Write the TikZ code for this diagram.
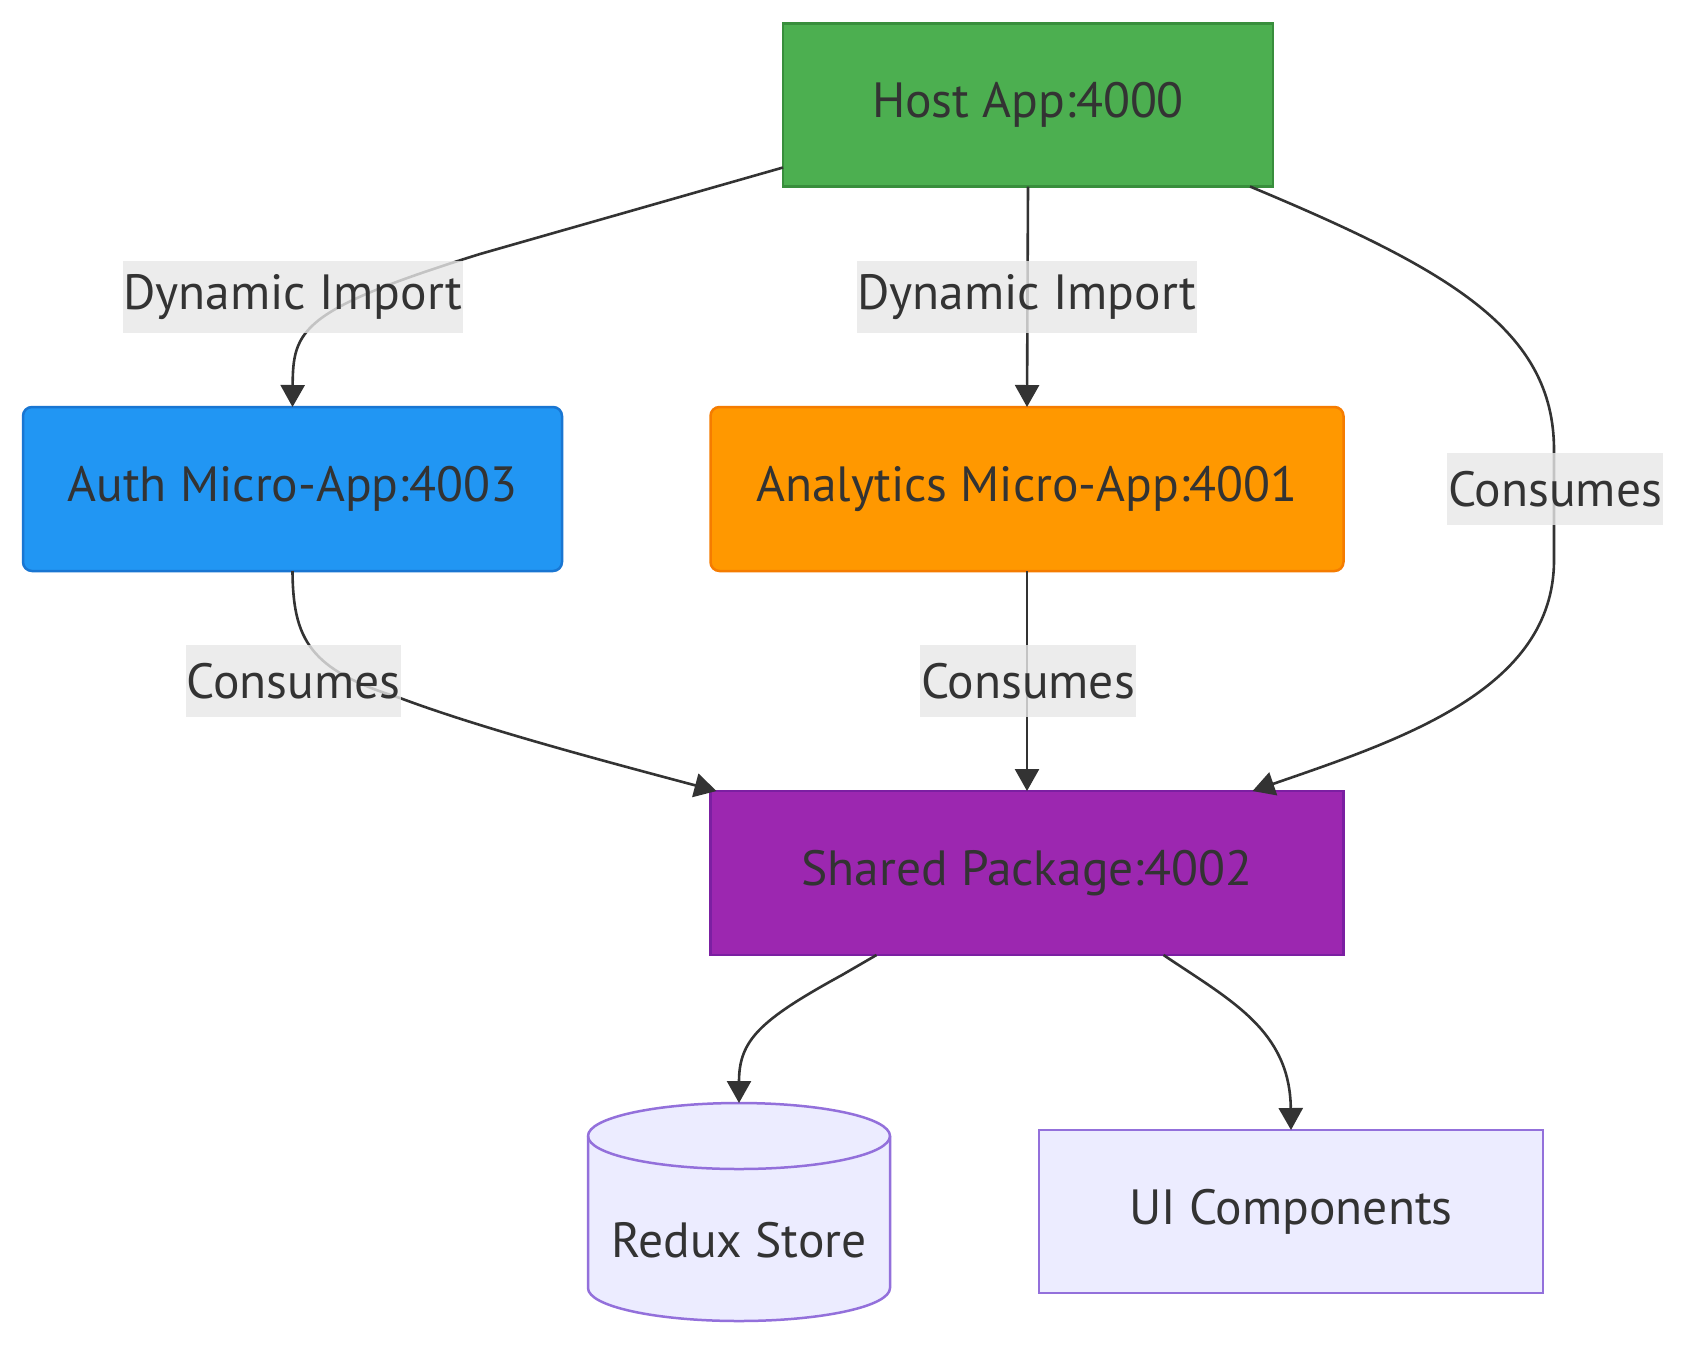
\documentclass[tikz,border=0pt]{standalone}
\usepackage{fontspec}
\setmainfont{PT Sans}
\usetikzlibrary{arrows.meta,calc}
\definecolor{ink}{HTML}{333333}
\definecolor{lblbg}{HTML}{E8E8E8}
\definecolor{hostfill}{HTML}{4CAF50}
\definecolor{hoststroke}{HTML}{388E3C}
\definecolor{authfill}{HTML}{2196F3}
\definecolor{authstroke}{HTML}{1976D2}
\definecolor{anafill}{HTML}{FF9800}
\definecolor{anastroke}{HTML}{F57C00}
\definecolor{shfill}{HTML}{9C27B0}
\definecolor{shstroke}{HTML}{7B1FA2}
\definecolor{plainfill}{HTML}{ECECFF}
\definecolor{plainstroke}{HTML}{9370DB}
\tikzset{
  box/.style={draw, line width=2.5pt, outer sep=0pt, inner sep=0pt, text=ink,
    font=\fontsize{49.5}{60}\selectfont},
  lbl/.style={fill=lblbg, fill opacity=0.8, text opacity=1, text=ink, inner xsep=1pt,
    inner ysep=0pt, minimum height=72pt, font=\fontsize{49.5}{60}\selectfont},
  conn/.style={draw=ink, line width=2.6pt, -{Triangle[length=22pt,width=24pt]}},
}
\begin{document}
\begin{tikzpicture}[x=1pt,y=-1pt]
\useasboundingbox (0,0) rectangle (1684,1345);
\fill[white] (0,0) rectangle (1684,1345);

% nodes
\node[box, fill=hostfill, draw=hoststroke, minimum width=490pt, minimum height=163pt] (host) at (1028,105) {Host App:4000};
\node[box, fill=authfill, draw=authstroke, rounded corners=9pt, minimum width=539pt, minimum height=164pt] (auth) at (292.5,489) {Auth Micro-App:4003};
\node[box, fill=anafill, draw=anastroke, rounded corners=9pt, minimum width=633pt, minimum height=164pt] (ana) at (1027,489) {Analytics Micro-App:4001};
\node[box, fill=shfill, draw=shstroke, minimum width=633pt, minimum height=164pt] (shared) at (1027,873) {Shared Package:4002};
\node[box, fill=plainfill, draw=plainstroke, minimum width=504pt, minimum height=163pt] (ui) at (1291,1211.5) {UI Components};

% cylinder
\node[outer sep=0pt, inner sep=0pt, minimum width=302pt, minimum height=218pt] (redux) at (739,1212) {};
\filldraw[fill=plainfill, draw=plainstroke, line width=2.5pt]
  ($(redux.north west)+(0,33)$) -- ($(redux.south west)+(0,-33)$)
  arc[start angle=180, end angle=360, x radius=151pt, y radius=33pt]
  -- ($(redux.north east)+(0,33)$)
  arc[start angle=0, end angle=180, x radius=151pt, y radius=33pt] -- cycle;
\draw[draw=plainstroke, line width=2.5pt] ($(redux.north west)+(0,33)$)
  arc[start angle=180, end angle=360, x radius=151pt, y radius=33pt];
\node[text=ink, font=\fontsize{49.5}{60}\selectfont] (reduxtext) at (739,1240) {Redux Store};

% connectors
\draw[conn] ([yshift=19pt]host.south west) -- (480,254) .. controls (300,310) and (293,330) .. (auth.north);
\draw[conn] (host.south) -- (ana.north);
\draw[conn] ([xshift=-23pt]host.south east) .. controls (1450,270) and (1554,330) .. (1554,450)
  -- (1554,560) .. controls (1554,690) and (1400,740) .. ([xshift=-91pt]shared.north east);
\draw[conn] (auth.south) .. controls (293,640) and (310,670) .. (400,698)
  .. controls (480,728) and (600,760) .. ([xshift=6pt]shared.north west);
\draw[conn] (ana.south) -- (shared.north);
\draw[conn] ([xshift=166pt]shared.south west) -- (842,975) .. controls (760,1020) and (739,1040) .. (redux.north);
\draw[conn] ([xshift=-180pt]shared.south east) .. controls (1230,1000) and (1290,1030) .. (ui.north);

% edge labels
\node[lbl] (l1) at (293,297) {Dynamic Import};
\node[lbl] (l2) at (1027,297) {Dynamic Import};
\node[lbl] (l3) at (1555,489) {Consumes};
\node[lbl] (l4) at (293.5,681) {Consumes};
\node[lbl] (l5) at (1028,681) {Consumes};
\end{tikzpicture}
\end{document}
